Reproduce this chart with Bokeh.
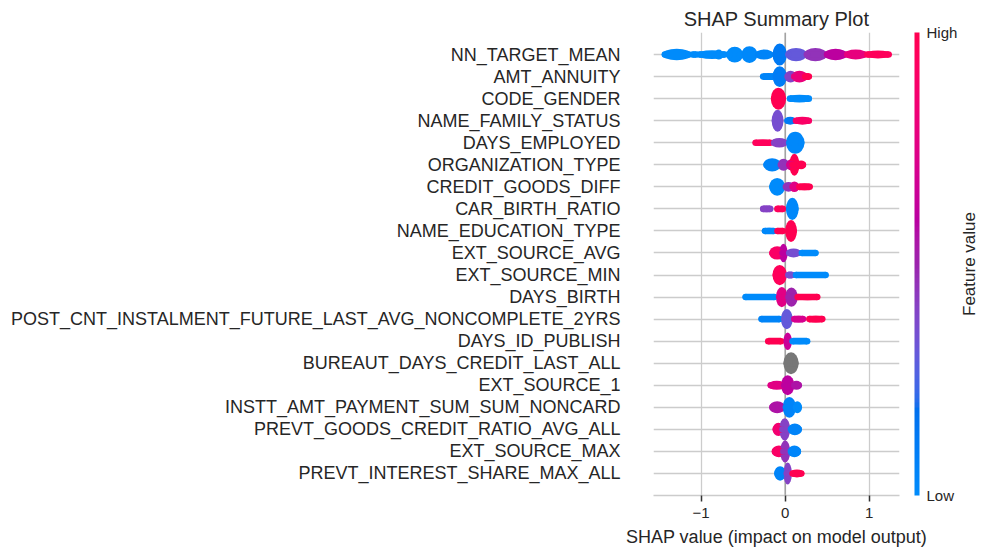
import numpy as np
from bokeh.plotting import figure
from bokeh.layouts import row
from bokeh.models import (ColumnDataSource, Range1d, FixedTicker, LinearColorMapper,
                          ColorBar, Span, Label)
from bokeh.transform import transform
from bokeh.embed import file_html
from bokeh.resources import INLINE

# feature names, top to bottom (most important first)
features = [
    "NN_TARGET_MEAN", "AMT_ANNUITY", "CODE_GENDER", "NAME_FAMILY_STATUS",
    "DAYS_EMPLOYED", "ORGANIZATION_TYPE", "CREDIT_GOODS_DIFF", "CAR_BIRTH_RATIO",
    "NAME_EDUCATION_TYPE", "EXT_SOURCE_AVG", "EXT_SOURCE_MIN", "DAYS_BIRTH",
    "POST_CNT_INSTALMENT_FUTURE_LAST_AVG_NONCOMPLETE_2YRS", "DAYS_ID_PUBLISH",
    "BUREAUT_DAYS_CREDIT_LAST_ALL", "EXT_SOURCE_1", "INSTT_AMT_PAYMENT_SUM_SUM_NONCARD",
    "PREVT_GOODS_CREDIT_RATIO_AVG_ALL", "EXT_SOURCE_MAX", "PREVT_INTEREST_SHARE_MAX_ALL",
]

# clusters of the swarm:
# (shap_lo, shap_hi, spread in rows, feature value 0=low 1=high, None=missing)
nn_target_mean = [(-1.47, -1.11, 0.26, 0.0), (-1.14, -1.02, 0.12, 0.0), (-1.06, -0.68, 0.2, 0.0),
                  (-0.84, -0.74, 0.23, 0.0), (-0.70, -0.50, 0.36, 0.0), (-0.52, -0.33, 0.38, 0.02),
                  (-0.36, -0.14, 0.23, 0.05), (-0.15, 0.02, 0.5, 0.12), (0.0, 0.26, 0.3, 0.3),
                  (0.22, 0.50, 0.3, 0.45), (0.46, 0.74, 0.26, 0.6), (0.70, 0.98, 0.23, 0.78),
                  (0.94, 1.27, 0.18, 0.95)]
amt_annuity = [(-0.30, -0.10, 0.16, 0.05), (-0.15, 0.02, 0.47, 0.1), (-0.01, 0.14, 0.27, 0.4),
               (0.07, 0.27, 0.27, 0.8), (0.20, 0.32, 0.15, 1.0)]
code_gender = [(-0.17, 0.01, 0.5, 1.0), (0.02, 0.32, 0.18, 0.0)]
name_family_status = [(-0.16, -0.02, 0.5, 0.35), (-0.01, 0.13, 0.18, 0.1), (0.09, 0.32, 0.18, 0.9)]
days_employed = [(-0.39, -0.14, 0.15, 0.95), (-0.17, 0.03, 0.22, 0.4), (0.01, 0.23, 0.5, 0.02)]
organization_type = [(-0.26, -0.05, 0.3, 0.05), (-0.09, 0.05, 0.27, 0.45), (0.01, 0.13, 0.25, 0.7),
                     (0.05, 0.17, 0.5, 1.0), (0.13, 0.25, 0.2, 1.0)]
credit_goods_diff = [(-0.19, 0.0, 0.4, 0.0), (-0.03, 0.11, 0.22, 0.45), (0.05, 0.17, 0.24, 0.75),
                     (0.13, 0.33, 0.16, 1.0)]
car_birth_ratio = [(-0.30, -0.14, 0.15, 0.4), (-0.13, 0.01, 0.13, 0.95), (0.01, 0.16, 0.5, 0.02)]
name_education_type = [(-0.28, -0.10, 0.14, 0.02), (-0.13, 0.01, 0.12, 1.0), (0.0, 0.14, 0.5, 1.0)]
ext_source_avg = [(-0.19, 0.0, 0.3, 0.9), (-0.07, 0.03, 0.42, 0.6), (0.01, 0.19, 0.2, 0.35),
                  (0.16, 0.40, 0.13, 0.0)]
ext_source_min = [(-0.15, 0.02, 0.46, 0.95), (0.0, 0.12, 0.16, 0.35), (0.09, 0.52, 0.12, 0.0)]
days_birth = [(-0.51, -0.09, 0.12, 0.0), (-0.11, 0.03, 0.46, 0.75), (0.0, 0.15, 0.44, 0.5),
              (0.11, 0.42, 0.14, 1.0)]
post_cnt_instalment = [(-0.32, -0.03, 0.13, 0.05), (-0.05, 0.09, 0.46, 0.3), (0.07, 0.25, 0.15, 0.7),
                       (0.25, 0.48, 0.15, 1.0)]
days_id_publish = [(-0.24, -0.01, 0.13, 1.0), (-0.02, 0.08, 0.4, 0.65), (0.05, 0.30, 0.14, 0.0)]
bureaut_days_credit = [(-0.02, 0.16, 0.5, None)]
ext_source_1 = [(-0.21, 0.01, 0.2, 0.75), (-0.05, 0.11, 0.45, 0.6), (0.07, 0.20, 0.2, 0.55)]
instt_amt_payment = [(-0.19, 0.0, 0.27, 0.55), (-0.03, 0.13, 0.47, 0.05), (0.09, 0.20, 0.27, 0.0)]
prevt_goods_credit = [(-0.15, -0.01, 0.3, 0.85), (-0.07, 0.06, 0.5, 0.4), (0.03, 0.20, 0.27, 0.05)]
ext_source_max = [(-0.16, 0.01, 0.27, 0.9), (-0.06, 0.06, 0.5, 0.45), (0.03, 0.19, 0.27, 0.03)]
prevt_interest_share = [(-0.13, 0.01, 0.33, 0.05), (-0.02, 0.08, 0.5, 0.4), (0.05, 0.23, 0.18, 1.0)]

clusters = [nn_target_mean, amt_annuity, code_gender, name_family_status, days_employed,
            organization_type, credit_goods_diff, car_birth_ratio, name_education_type,
            ext_source_avg, ext_source_min, days_birth, post_cnt_instalment, days_id_publish,
            bureaut_days_credit, ext_source_1, instt_amt_payment, prevt_goods_credit,
            ext_source_max, prevt_interest_share]

x_ticks = [-1, 0, 1]


# shap's red_blue colormap (interpolation in LCH space)
def lch_to_hex(l, c, h):
    a, b = c * np.cos(h), c * np.sin(h)
    fy = (l + 16) / 116
    fx = fy + a / 500
    fz = fy - b / 200

    def finv(t):
        return t ** 3 if t ** 3 > 0.008856 else (t - 16 / 116) / 7.787
    X, Y, Z = 0.95047 * finv(fx), finv(fy), 1.08883 * finv(fz)
    rgb = [3.2406 * X - 1.5372 * Y - 0.4986 * Z,
           -0.9689 * X + 1.8758 * Y + 0.0415 * Z,
           0.0557 * X - 0.2040 * Y + 1.0570 * Z]
    out = []
    for v in rgb:
        v = 1.055 * v ** (1 / 2.4) - 0.055 if v > 0.0031308 else 12.92 * v
        out.append(int(round(min(max(v, 0), 1) * 255)))
    return "#%02x%02x%02x" % tuple(out)


n = 100
l_vals = list(np.linspace(54, 40, n // 2)) + list(np.linspace(40, 54, n // 2))
c_vals = np.linspace(70, 90, n)
h_vals = np.linspace(4.6588, 0.35470565 + 2 * np.pi, n)
palette = [lch_to_hex(l, c, h) for l, c, h in zip(l_vals, c_vals, h_vals)]

X0, X1 = -1.567, 1.361
W, H = 983, 556
LEFT, TOP = 653, 32                        # frame position in the page
FRAME_W, FRAME_H = 248, 463
MAIN_W = 960                               # main figure incl. colour bar; caption beside it
DOT = 3.3                                  # dot radius, px
dot_x = DOT * (X1 - X0) / FRAME_W          # same in shap units

xs, ys, ws, hs, vals, cw = [], [], [], [], [], []
ends_x, ends_y, ends_v = [], [], []
for i, cl in enumerate(clusters):
    rw = len(features) - 1 - i
    for lo, hi, spread, v in cl:
        v = np.nan if v is None else v
        xs.append((lo + hi) / 2)
        ys.append(rw)
        ws.append(hi - lo)
        hs.append(2 * spread)
        vals.append(v)
        cw.append(max(hi - lo - 2 * dot_x, 0))
        ends_x += [lo + dot_x, hi - dot_x]
        ends_y += [rw, rw]
        ends_v += [v, v]

src = ColumnDataSource(dict(x=xs, y=ys, w=ws, h=hs, v=vals, cw=cw))
ends = ColumnDataSource(dict(x=ends_x, y=ends_y, v=ends_v))
mapper = LinearColorMapper(palette=palette, low=0, high=1, nan_color="#777777")

TXT = "#262626"
FONT = "Liberation Sans"

p = figure(width=MAIN_W, height=H, output_backend="svg", toolbar_location=None,
           x_range=Range1d(X0, X1), y_range=Range1d(-1, 20),
           min_border_left=LEFT, min_border_right=MAIN_W - LEFT - FRAME_W,
           min_border_top=TOP, min_border_bottom=H - TOP - FRAME_H)
p.outline_line_color = None
p.background_fill_color = "white"

p.title.text = "SHAP Summary Plot"
p.title.align = "center"
p.title.text_font = FONT
p.title.text_font_size = "20px"
p.title.text_font_style = "normal"
p.title.text_color = TXT
p.title.standoff = 6
p.title.offset = 0

# grid
p.xgrid.ticker = FixedTicker(ticks=x_ticks)
p.ygrid.ticker = FixedTicker(ticks=list(range(len(features))))
for g in (p.xgrid, p.ygrid):
    g.grid_line_color = "#cccccc"
    g.grid_line_width = 1.3
p.add_layout(Span(location=0, dimension="height", line_color="#999999", line_width=1.3,
                  level="underlay"))

fill = transform("v", mapper)
p.ellipse(x="x", y="y", width="w", height="h", source=src, fill_color=fill, line_color=None)
p.rect(x="x", y="y", width="cw", height=2 * DOT, height_units="screen", source=src,
       fill_color=fill, line_color=None)
p.circle(x="x", y="y", radius=DOT, radius_units="screen", source=ends,
         fill_color=fill, line_color=None)

# x axis
xa = p.xaxis[0]
xa.ticker = FixedTicker(ticks=x_ticks)
xa.major_label_overrides = {-1: "\u22121", 0: "0", 1: "1"}
xa.axis_line_color = "#cccccc"
xa.axis_line_width = 1.3
xa.major_tick_line_color = "#333333"
xa.major_tick_line_width = 1.5
xa.major_tick_out = 6
xa.major_tick_in = 0
xa.minor_tick_line_color = None
xa.major_label_text_font = FONT
xa.major_label_text_font_size = "15px"
xa.major_label_text_color = TXT
xa.major_label_standoff = 6
xa.axis_label = "SHAP value (impact on model output)"
xa.axis_label_text_font = FONT
xa.axis_label_text_font_size = "18px"
xa.axis_label_text_font_style = "normal"
xa.axis_label_text_color = TXT
xa.axis_label_standoff = 6

# y axis with feature names
ya = p.yaxis[0]
ya.ticker = FixedTicker(ticks=list(range(len(features))))
ya.major_label_overrides = {len(features) - 1 - i: f for i, f in enumerate(features)}
ya.axis_line_color = None
ya.major_tick_line_color = None
ya.major_tick_out = 0
ya.major_tick_in = 0
ya.minor_tick_line_color = None
ya.major_label_text_font = FONT
ya.major_label_text_font_size = "18px"
ya.major_label_text_color = TXT
ya.major_label_standoff = 33

cb = ColorBar(color_mapper=mapper, width=5, height=FRAME_H, location=(15, 0),
              margin=0, padding=0, ticker=FixedTicker(ticks=[0, 1]),
              major_label_overrides={0: "Low", 1: "High"},
              major_label_text_font=FONT, major_label_text_font_size="15px",
              major_label_text_color=TXT, label_standoff=7,
              major_tick_line_color=None, bar_line_color=None,
              border_line_color=None, background_fill_alpha=0)
p.add_layout(cb, "right")

# narrow side figure for the rotated colour bar caption (frame lines up with the main one)
cbf = figure(width=W - MAIN_W, height=H, output_backend="svg", toolbar_location=None,
             x_range=Range1d(0, 1), y_range=Range1d(0, 1),
             x_axis_type=None, y_axis_type=None,
             min_border_left=0, min_border_right=0, min_border_top=TOP,
             min_border_bottom=H - TOP - FRAME_H)
cbf.outline_line_color = None
cbf.grid.visible = False
cbf.add_layout(Label(x=969 - MAIN_W, y=FRAME_H / 2, x_units="screen", y_units="screen",
                     text="Feature value", angle=90, angle_units="deg",
                     text_align="center", text_baseline="middle",
                     text_font=FONT, text_font_size="17px", text_color=TXT))

open("out.html", "w").write(file_html(row(p, cbf), INLINE))
